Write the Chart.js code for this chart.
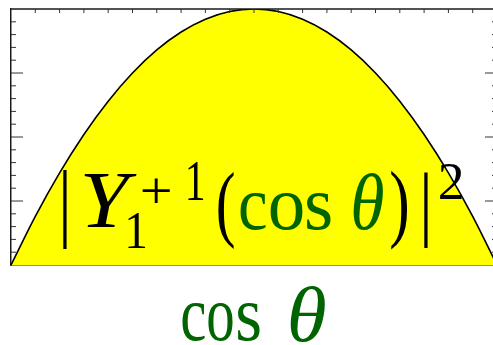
<!DOCTYPE html>
<html>
<head>
<meta charset="utf-8">
<script src="https://cdn.jsdelivr.net/npm/chart.js@4"></script>
<style>
  html, body { margin: 0; padding: 0; background: #fff; overflow: hidden; }
  #wrap { width: 501px; height: 345px; }
</style>
</head>
<body>
<div id="wrap"><canvas id="ylmChart" width="501" height="345"></canvas></div>
<script>
// cos(theta) muestreado y densidad normalizada |Y_1^{+1}|^2
const cosTheta = [-1, -0.9, -0.8, -0.7, -0.6, -0.5, -0.4, -0.3, -0.2, -0.1, 0,
                  0.1, 0.2, 0.3, 0.4, 0.5, 0.6, 0.7, 0.8, 0.9, 1];
const density = [0, 0.19, 0.36, 0.51, 0.64, 0.75, 0.84, 0.91, 0.96, 0.99, 1,
                 0.99, 0.96, 0.91, 0.84, 0.75, 0.64, 0.51, 0.36, 0.19, 0];

// marcas del eje superior y de los ejes laterales
const topTicks = [-0.9, -0.8, -0.7, -0.6, -0.5, -0.4, -0.3, -0.2, -0.1, 0,
                  0.1, 0.2, 0.3, 0.4, 0.5, 0.6, 0.7, 0.8, 0.9];
const yMinorTicks = [0.05, 0.1, 0.15, 0.2, 0.3, 0.35, 0.4, 0.45,
                     0.55, 0.6, 0.65, 0.7, 0.8, 0.85, 0.9, 0.95];
const yMajorTicks = [0.25, 0.5, 0.75];
// lineas verticales tenues de la grilla
const gridX = [-0.708, -0.413, -0.118, 0.177, 0.472, 0.767];

const GREEN = "#006400";
const FRAME = "#1a1a1a";

// Dibuja un texto ajustado a una caja [izq, arriba, der, abajo]
function fitText(ctx, text, box, italic, color) {
  ctx.save();
  ctx.font = (italic ? "italic " : "") + '100px "Liberation Serif"';
  const m = ctx.measureText(text);
  const w = m.actualBoundingBoxLeft + m.actualBoundingBoxRight;
  const h = m.actualBoundingBoxAscent + m.actualBoundingBoxDescent;
  ctx.translate(box[0], box[1]);
  ctx.scale((box[2] - box[0]) / w, (box[3] - box[1]) / h);
  ctx.fillStyle = color;
  ctx.textBaseline = "alphabetic";
  ctx.fillText(text, m.actualBoundingBoxLeft, m.actualBoundingBoxAscent);
  ctx.restore();
}

const frameAndTicks = {
  id: "frameAndTicks",
  afterDraw(chart) {
    const ctx = chart.ctx;
    const area = chart.chartArea;
    const xs = chart.scales.x;
    const ys = chart.scales.y;
    ctx.save();
    // borde superior
    ctx.strokeStyle = FRAME;
    ctx.lineWidth = 1.5;
    ctx.beginPath();
    ctx.moveTo(area.left, area.top);
    ctx.lineTo(area.right, area.top);
    ctx.stroke();

    ctx.lineWidth = 1;
    ctx.strokeStyle = "#333";
    ctx.beginPath();
    topTicks.forEach((v) => {
      const px = xs.getPixelForValue(v);
      ctx.moveTo(px, area.top);
      ctx.lineTo(px, area.top + 4);
    });
    const sideTick = (v, len) => {
      const py = ys.getPixelForValue(v);
      ctx.moveTo(area.left, py);
      ctx.lineTo(area.left + len, py);
      ctx.moveTo(area.right, py);
      ctx.lineTo(area.right - len, py);
    };
    yMinorTicks.forEach((v) => sideTick(v, 5));
    yMajorTicks.forEach((v) => sideTick(v, 12));
    ctx.stroke();
    ctx.restore();

    // etiqueta |Y_1^{+1}(cos θ)|^2
    fitText(ctx, "|", [63, 170, 67, 248], false, "#000");
    fitText(ctx, "Y", [84, 175, 137, 228], true, "#000");
    fitText(ctx, "1", [128, 213, 145, 248], false, "#000");
    fitText(ctx, "+", [142, 178, 170, 203], false, "#000");
    fitText(ctx, "1", [188, 163, 203, 200], false, "#000");
    fitText(ctx, "(", [218, 172, 234, 250], false, "#000");
    fitText(ctx, "c", [240, 193, 266, 230], false, GREEN);
    fitText(ctx, "o", [270, 193, 303, 230], false, GREEN);
    fitText(ctx, "s", [307, 193, 331, 230], false, GREEN);
    fitText(ctx, "θ", [353, 173, 383, 230], true, GREEN);
    fitText(ctx, ")", [391, 170, 407, 250], false, "#000");
    fitText(ctx, "|", [424, 172, 428, 248], false, "#000");
    fitText(ctx, "2", [440, 165, 462, 200], false, "#000");

    // titulo del eje x
    fitText(ctx, "c", [182, 303, 205, 341], false, GREEN);
    fitText(ctx, "o", [208, 303, 233, 341], false, GREEN);
    fitText(ctx, "s", [238, 303, 260, 341], false, GREEN);
    fitText(ctx, "θ", [290, 287, 325, 342], true, GREEN);
  },
};

const ctx = document.getElementById("ylmChart").getContext("2d");
const ylmChart = new Chart(ctx, {
  type: "line",
  data: {
    labels: cosTheta,
    datasets: [
      {
        data: cosTheta.map((x, i) => ({ x: x, y: density[i] })),
        borderColor: "#000",
        borderWidth: 1.6,
        backgroundColor: "#ffff00",
        fill: "origin",
        pointRadius: 0,
        cubicInterpolationMode: "monotone",
      },
    ],
  },
  options: {
    responsive: false,
    animation: false,
    layout: {
      padding: { left: 11, top: 9, right: 4, bottom: 80 },
    },
    plugins: {
      legend: { display: false },
      tooltip: { enabled: false },
    },
    scales: {
      x: {
        type: "linear",
        min: -1,
        max: 1,
        z: 1,
        afterBuildTicks: (scale) => {
          scale.ticks = gridX.map((v) => ({ value: v }));
        },
        ticks: { display: false },
        grid: {
          color: "rgba(255,255,255,0.45)",
          lineWidth: 1,
          drawTicks: false,
        },
        border: { color: FRAME, width: 1.5 },
      },
      y: {
        min: 0,
        max: 1,
        ticks: { display: false },
        grid: { display: false, drawTicks: false },
        border: { color: FRAME, width: 1.5 },
      },
    },
  },
  plugins: [frameAndTicks],
});
</script>
</body>
</html>
